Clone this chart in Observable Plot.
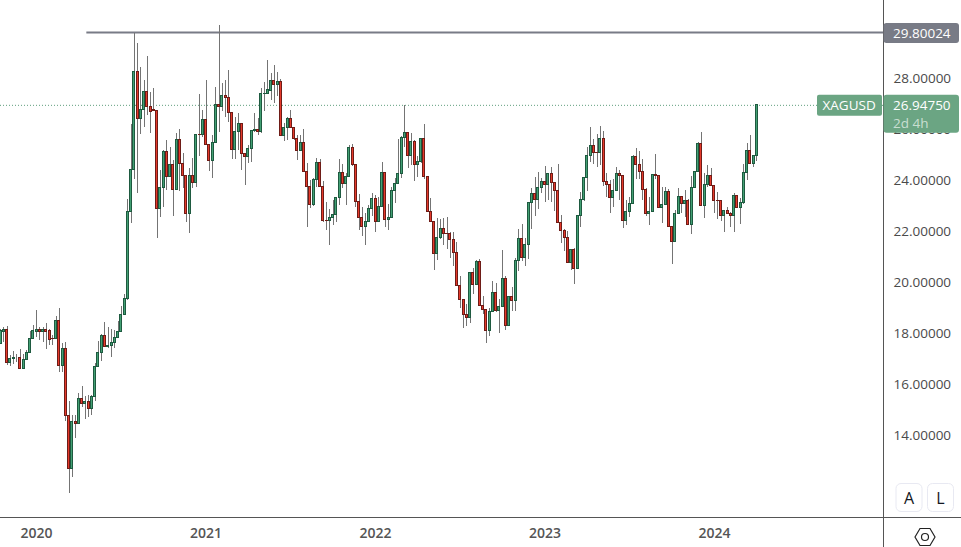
<!DOCTYPE html>
<html><head><meta charset="utf-8">
<script src="https://cdn.jsdelivr.net/npm/d3@7"></script>
<script src="https://cdn.jsdelivr.net/npm/@observablehq/plot@0.6"></script>
<style>html,body{margin:0;padding:0;background:#fff}svg{display:block}</style>
</head><body><div id="chart"></div>
<script>
const firstWeek = "2019-10-21";
const open = [17.60,18.05,18.15,16.84,17.01,17.05,17.05,16.60,16.97,17.23,
17.78,18.05,18.15,18.05,18.15,18.08,17.79,17.78,18.50,16.72,
17.40,14.77,12.68,14.54,14.45,15.44,15.23,15.31,15.03,15.52,
16.69,17.24,17.91,17.48,17.50,17.64,17.83,18.07,18.73,19.36,
22.77,24.42,28.26,26.42,26.77,27.48,26.88,26.75,26.73,22.89,
23.71,25.12,24.13,24.61,23.63,25.59,24.64,24.18,22.68,24.18,
23.89,25.79,25.78,26.38,25.40,24.77,25.48,26.95,26.88,27.32,
27.23,26.65,25.21,25.91,26.22,25.04,24.93,25.24,25.95,25.99,
25.90,27.40,27.40,27.50,27.91,27.74,27.87,25.74,26.07,26.42,
26.07,25.64,25.15,25.48,24.33,23.74,23.03,24.03,24.69,23.74,
22.42,22.42,22.54,22.65,23.32,24.30,23.86,24.13,25.28,24.60,
23.16,22.54,22.18,22.38,22.89,23.28,22.38,22.97,24.30,22.46,
22.54,23.59,23.87,24.26,25.67,25.87,24.97,25.52,24.61,24.73,
25.63,24.14,22.76,22.38,21.12,21.75,22.10,21.91,21.90,21.67,
21.16,19.87,19.32,18.73,18.62,20.38,19.91,20.81,19.09,18.93,
18.09,18.85,19.60,18.88,19.05,20.15,18.30,19.44,19.28,20.85,
21.71,20.97,21.48,23.12,23.48,23.24,23.71,23.93,23.83,24.26,
23.91,23.59,22.34,22.03,21.75,20.77,21.28,20.54,22.61,23.24,
24.10,24.97,25.36,25.09,25.07,25.63,23.95,23.83,23.32,23.60,
24.26,24.18,22.42,22.77,23.08,24.93,24.61,24.33,23.63,22.69,
22.77,24.22,24.17,22.93,23.05,23.55,22.17,21.59,22.68,23.36,
23.08,23.20,22.25,23.71,24.34,25.44,22.99,23.83,24.18,23.79,
23.20,23.20,22.61,22.81,22.69,22.61,23.40,22.93,23.12,24.30,
25.16,24.65,24.97];
const close = [18.08,18.15,16.84,17.01,17.05,17.05,16.60,16.98,17.24,17.79,
18.08,18.15,18.05,18.15,18.05,17.74,17.78,18.50,16.72,17.40,
14.77,12.68,14.54,14.45,15.44,15.23,15.31,15.03,15.52,16.69,
17.24,17.91,17.48,17.50,17.64,17.83,18.07,18.73,19.36,22.77,
24.42,28.26,26.42,26.77,27.48,26.88,26.68,26.72,22.89,23.71,
25.12,24.13,24.61,23.63,25.59,24.64,24.18,22.68,24.18,23.89,
25.79,25.78,26.38,25.40,24.77,25.48,26.95,26.88,27.32,27.23,
26.65,25.21,25.91,26.22,25.04,24.93,25.24,25.95,25.99,25.90,
27.40,27.41,27.53,27.91,27.74,27.87,25.74,26.07,26.42,26.07,
25.64,25.15,25.48,24.33,23.75,23.03,24.03,24.69,23.74,22.42,
22.41,22.54,22.65,23.32,24.30,23.86,24.13,25.28,24.60,23.16,
22.54,22.18,22.38,22.89,23.28,22.38,22.97,24.30,22.46,22.54,
23.59,23.87,24.26,25.67,25.87,24.97,25.52,24.61,24.73,25.63,
24.14,22.76,22.38,21.12,21.75,22.10,21.91,21.90,21.67,21.16,
19.87,19.32,18.72,18.62,20.38,19.91,20.81,19.09,18.93,18.09,
18.85,19.60,18.88,19.05,20.15,18.30,19.44,19.28,20.85,21.71,
20.97,21.48,23.12,23.48,23.24,23.71,23.93,23.83,24.26,23.91,
23.59,22.34,22.03,21.75,20.77,21.28,20.54,22.61,23.24,24.10,
24.97,25.36,25.09,25.07,25.63,23.95,23.83,23.32,23.60,24.26,
24.18,22.42,22.77,23.08,24.93,24.61,24.33,23.63,22.69,22.77,
24.22,24.17,22.93,23.05,23.55,22.17,21.59,22.68,23.36,23.08,
23.20,22.25,23.71,24.34,25.44,22.99,23.83,24.18,23.79,23.20,
23.19,22.61,22.81,22.68,22.61,23.40,22.93,23.12,24.30,25.16,
24.65,24.97,26.9475];
const high = [18.15,18.25,18.28,17.14,17.31,17.18,17.37,17.18,17.34,18.08,
18.32,18.90,18.25,18.25,18.41,18.15,17.92,18.67,18.97,17.62,
17.66,15.34,14.79,14.79,15.64,15.92,15.51,15.57,15.57,16.81,
17.70,17.96,18.43,18.25,18.15,18.12,18.47,19.06,19.53,23.26,
26.20,29.75,29.36,28.44,27.92,28.86,27.47,27.60,26.75,24.39,
25.18,25.57,25.30,24.78,25.83,26.00,25.04,24.20,24.46,24.85,
25.79,27.37,26.75,27.92,25.40,25.77,27.66,30.08,27.79,27.92,
28.31,26.65,26.46,26.64,26.22,25.05,25.37,25.95,26.64,26.42,
27.60,27.86,28.71,28.18,28.51,28.25,27.95,26.22,26.48,26.75,
26.09,25.77,25.77,26.00,24.65,24.00,24.07,24.85,24.82,23.96,
23.15,22.86,23.21,23.35,24.82,24.63,24.26,25.37,25.41,24.63,
23.45,22.95,22.69,23.02,23.48,23.41,23.32,24.71,24.30,23.06,
23.71,24.07,25.59,25.73,26.94,25.87,25.83,25.57,24.94,25.63,
26.20,24.15,23.28,22.39,22.50,22.46,22.50,22.56,21.97,21.95,
21.55,20.24,19.32,19.12,20.38,20.54,20.86,20.90,19.45,18.93,
18.97,20.04,19.95,19.32,21.25,20.24,19.45,19.80,20.93,22.08,
22.27,21.71,23.12,23.70,24.10,24.30,24.06,24.55,24.29,24.50,
23.91,24.61,22.63,22.07,22.01,21.29,21.32,22.61,23.54,24.10,
25.28,26.09,25.59,25.79,26.12,25.92,24.26,24.00,24.03,24.50,
24.39,24.18,23.21,23.32,25.00,25.24,25.15,24.81,23.67,23.35,
24.22,25.02,24.20,23.74,23.74,23.63,22.18,22.82,23.69,23.37,
23.60,23.27,24.16,24.35,25.50,25.88,24.26,24.57,24.46,23.79,
23.54,23.20,22.81,22.95,22.76,23.50,23.40,23.31,24.63,25.44,
25.75,24.98,26.9475];
const low = [17.55,17.66,16.75,16.71,16.79,16.88,16.60,16.60,16.94,17.23,
17.75,17.86,17.73,17.66,17.37,17.53,17.53,17.75,16.49,16.49,
14.53,11.74,12.37,13.90,14.45,15.11,14.64,14.72,14.80,15.35,
16.68,16.92,17.47,17.40,17.05,17.43,17.83,18.04,18.73,19.30,
22.33,24.03,23.48,25.80,26.07,26.55,25.86,26.70,21.71,22.56,
22.93,23.61,24.13,22.60,23.61,23.58,23.67,22.36,21.93,23.67,
23.74,24.94,25.67,25.37,24.37,24.09,25.46,25.90,26.72,26.49,
26.29,24.83,24.83,25.18,24.39,23.81,24.65,24.72,25.90,25.77,
25.83,26.72,27.37,27.14,27.03,27.30,25.74,25.54,25.57,26.03,
25.57,24.79,25.15,24.33,22.15,22.92,22.98,23.74,23.74,22.37,
22.04,21.45,22.24,22.37,23.02,23.67,23.02,24.10,24.55,22.95,
22.04,21.82,21.45,22.34,22.59,21.97,22.37,22.95,22.17,22.04,
22.54,23.11,23.83,24.08,25.31,24.46,24.59,23.97,24.13,24.68,
24.04,22.73,22.37,20.47,20.86,21.69,21.45,21.28,20.93,20.64,
19.87,18.97,18.21,18.29,18.38,19.53,19.88,19.09,18.73,17.62,
17.90,18.84,18.84,18.01,19.03,18.12,18.29,18.86,18.86,20.45,
20.84,20.63,20.90,22.06,22.59,22.85,23.50,23.15,23.22,23.15,
22.80,22.34,21.52,21.23,20.77,20.47,19.92,20.54,22.17,23.19,
23.58,24.72,24.63,24.50,24.59,23.78,23.35,22.72,22.95,23.57,
23.21,22.13,22.25,22.56,23.08,24.04,24.04,23.21,22.59,22.24,
22.76,24.04,22.89,22.33,23.02,22.17,20.71,21.58,22.68,22.69,
22.56,22.25,21.88,23.70,24.33,22.99,22.51,23.71,23.76,22.72,
22.48,22.40,21.97,22.67,22.17,21.97,22.93,22.27,23.04,23.99,
24.63,24.50,24.76];

const priceTicks = [14,16,18,20,22,24,26,28,30];
const yearTicks = ["2020-01-06","2021-01-04","2022-01-03","2023-01-02","2024-01-01"];
const yearLabels = ["2020","2021","2022","2023","2024"];
const resistance = 29.80024, lastPrice = 26.94750;
const symbol = "XAGUSD", countdown = "2d 4h";
const resistanceFrom = "2020-04-23";

const FONT = "'Open Sans', sans-serif";
const GREEN_IN="#43a074", GREEN_EDGE="#1e5a40", RED_IN="#e53a2b", RED_EDGE="#6e1c17", WICK="#747474";
const parse = s => new Date(s+"T00:00:00Z");
const rows = open.map((o,i)=>{
  const t = d3.utcDay.offset(parse(firstWeek), i*7);
  return {t, x1:new Date(+t-2.15*864e5), x2:new Date(+t+2.15*864e5), o, c:close[i], h:high[i], l:low[i], up:close[i]>=o};
});
const xStart = new Date("2019-10-20T13:40:00Z"), xEnd = new Date("2024-12-29T00:00:00Z");

const plot = Plot.plot({
  width:961, height:547, marginLeft:0, marginRight:78, marginTop:0, marginBottom:30,
  style:{background:"#fff", fontFamily:FONT},
  x:{type:"utc", domain:[xStart,xEnd], axis:null},
  y:{domain:[10.784,31.059], axis:null},
  marks:[
    Plot.ruleY([lastPrice],{stroke:"#5f9e7e", strokeWidth:1, strokeDasharray:"1,2"}),
    Plot.ruleY([{v:resistance}],{y:"v", x1:()=>parse(resistanceFrom), x2:()=>xEnd, stroke:"#787b86", strokeWidth:2}),
    Plot.ruleX(rows,{x:"t", y1:"l", y2:"h", stroke:WICK, strokeWidth:1, shapeRendering:"crispEdges"}),
    Plot.rect(rows,{x1:"x1", x2:"x2", y1:"o", y2:"c", fill:d=>d.up?GREEN_IN:RED_IN, stroke:d=>d.up?GREEN_EDGE:RED_EDGE, strokeWidth:1, shapeRendering:"crispEdges"}),
    Plot.ruleX([xEnd],{stroke:"#555", strokeWidth:1, insetBottom:-30}),
    Plot.ruleY([10.784],{stroke:"#555", strokeWidth:1, insetRight:-78}),
    Plot.axisY({anchor:"right", ticks:priceTicks, tickFormat:d=>d.toFixed(5), tickSize:0, tickPadding:10, fontSize:13.5, fill:"#4a4a4a", label:null, fontFamily:FONT}),
    Plot.axisX({anchor:"bottom", ticks:yearTicks.map(parse), tickFormat:(d,i)=>yearLabels[yearTicks.map(s=>+parse(s)).indexOf(+d)], tickSize:0, tickPadding:11, fontSize:14, fontWeight:600, fill:"#555", label:null, fontFamily:FONT})
  ]
});
document.getElementById("chart").appendChild(plot);

// price tags and chart controls, placed through the chart's own y scale
const yS = plot.scale("y"), svg = d3.select(plot), g = svg.append("g").style("font-family",FONT);
const tagY = yS.apply(resistance), lastY = yS.apply(lastPrice);
const txt = (x,y,s,o={})=>g.append("text").attr("x",x).attr("y",y).attr("dominant-baseline","central")
  .attr("font-size",o.size||13.5).attr("fill",o.fill||"#fff").attr("fill-opacity",o.op||1).attr("text-anchor",o.anchor||"start").text(s);
g.append("rect").attr("x",883.5).attr("y",tagY-9).attr("width",75.5).attr("height",20).attr("rx",3).attr("fill","#787b86");
txt(893,tagY+0.5,resistance.toFixed(5));
g.append("rect").attr("x",817).attr("y",lastY-10).attr("width",65).attr("height",21).attr("rx",2).attr("fill","#6ba583");
txt(822.5,lastY+0.5,symbol);
g.append("rect").attr("x",883.5).attr("y",lastY-10).attr("width",75.5).attr("height",38).attr("rx",3).attr("fill","#6ba583");
txt(893,lastY+0.5,lastPrice.toFixed(5));
txt(893,lastY+18,countdown,{op:0.65});
[["A",896],["L",927.5]].forEach(([s,x])=>{
  g.append("rect").attr("x",x).attr("y",483.5).attr("width",26).attr("height",28).attr("rx",5).attr("fill","#fff").attr("stroke","#e8e9f2");
  txt(x+13,498,s,{size:16,fill:"#131722",anchor:"middle"});
});
g.append("path").attr("d","M915,537 L920,528.5 L930,528.5 L935,537 L930,545.5 L920,545.5 Z").attr("fill","none").attr("stroke","#222").attr("stroke-width",1.2);
g.append("circle").attr("cx",925).attr("cy",537).attr("r",3.5).attr("fill","none").attr("stroke","#222").attr("stroke-width",1.2);
</script></body></html>
